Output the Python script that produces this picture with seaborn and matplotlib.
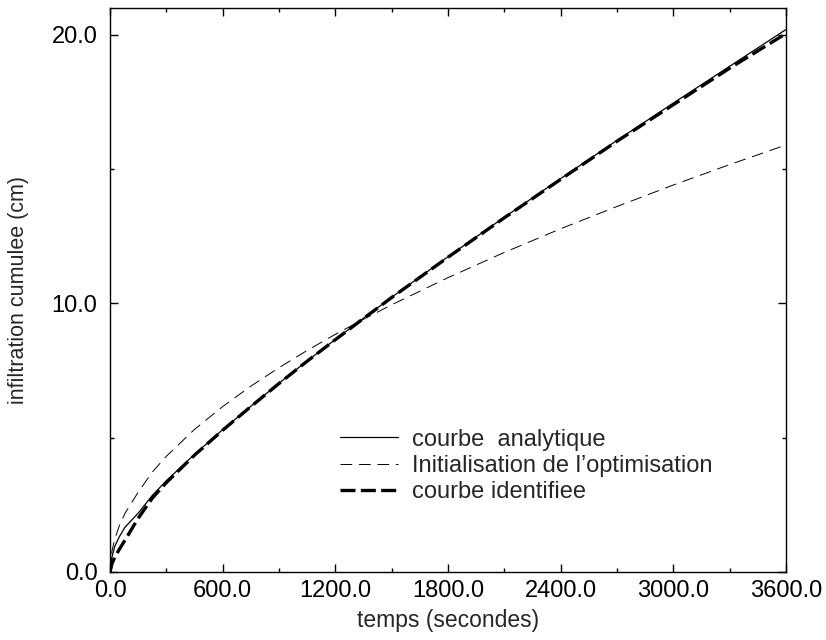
import matplotlib
matplotlib.use("Agg")
import matplotlib.pyplot as plt
from matplotlib.ticker import MultipleLocator, FormatStrFormatter
from matplotlib.lines import Line2D
import seaborn as sns
import pandas as pd

# temps (s) et infiltration cumulee (cm)
temps = [0, 10, 25, 50, 80, 150, 225, 300, 450, 600, 750, 900, 1050, 1200,
         1350, 1500, 1800, 2100, 2400, 2700, 3000, 3300, 3600]
analytique = [0.0, 0.55, 0.95, 1.32, 1.67, 2.19, 2.85, 3.40, 4.38, 5.30, 6.17,
              7.03, 7.86, 8.66, 9.45, 10.23, 11.74, 13.21, 14.65, 16.07, 17.46,
              18.83, 20.20]
initialisation = [0.0, 0.77, 1.22, 1.73, 2.19, 2.97, 3.72, 4.31, 5.31, 6.16, 6.92,
                  7.61, 8.25, 8.85, 9.41, 9.95, 10.96, 11.90, 12.78, 13.61, 14.41,
                  15.17, 15.90]
identifiee = [0.0, 0.30, 0.55, 0.85, 1.19, 2.00, 2.75, 3.33, 4.35, 5.28, 6.16,
              7.02, 7.85, 8.65, 9.44, 10.22, 11.72, 13.19, 14.62, 16.04, 17.40,
              18.76, 20.05]

labels = ["courbe  analytique", "Initialisation de l\u2019optimisation", "courbe identifiee"]

df = pd.DataFrame({
    "temps": temps * 3,
    "infiltration": analytique + initialisation + identifiee,
    "courbe": [labels[0]] * len(temps) + [labels[1]] * len(temps) + [labels[2]] * len(temps),
})

sns.set_theme(style="ticks")
plt.rcParams["font.family"] = ["Liberation Sans", "DejaVu Sans"]

fig = plt.figure(figsize=(8.26, 6.4), dpi=100)
ax = fig.add_axes([0.1332, 0.10625, 0.8184, 0.88125])

dash_init = (12, 7)
dash_ident = (4.5, 1.6)
sns.lineplot(data=df, x="temps", y="infiltration", hue="courbe", style="courbe",
             palette=["black"] * 3, dashes=[(None, None), dash_init, dash_ident],
             size="courbe", sizes=[0.9, 0.7, 2.4], ax=ax, legend=False)

# la courbe analytique est en trait plein
ax.lines[0].set_linestyle("-")

ax.set_xlim(0, 3600)
ax.set_ylim(0, 21.0)
ax.xaxis.set_major_locator(MultipleLocator(600))
ax.xaxis.set_minor_locator(MultipleLocator(300))
ax.yaxis.set_major_locator(MultipleLocator(10))
ax.yaxis.set_minor_locator(MultipleLocator(5))
ax.xaxis.set_major_formatter(FormatStrFormatter("%.1f"))
ax.yaxis.set_major_formatter(FormatStrFormatter("%.1f"))

ax.tick_params(which="both", direction="in", top=True, right=True, width=1.0,
               colors="black", labelsize=17)
ax.tick_params(which="major", length=6)
ax.tick_params(which="minor", length=3)
ax.tick_params(axis="y", pad=9)
ax.tick_params(axis="x", pad=6)
for sp in ax.spines.values():
    sp.set_linewidth(1.0)
    sp.set_color("black")

ax.set_xlabel("temps (secondes)", fontsize=16.5, labelpad=5)
ax.set_ylabel("infiltration cumulee (cm)", fontsize=15.5, labelpad=16)

handles = [Line2D([], [], color="black", lw=0.9, ls="-"),
           Line2D([], [], color="black", lw=0.7, dashes=dash_init),
           Line2D([], [], color="black", lw=2.4, dashes=dash_ident)]
ax.legend(handles, labels, loc="center left", bbox_to_anchor=(0.34, 0.188),
          frameon=False, fontsize=17, handlelength=2.45, handletextpad=0.6,
          labelspacing=0.18, borderpad=0, borderaxespad=0)

fig.savefig("out.png", dpi=100)
